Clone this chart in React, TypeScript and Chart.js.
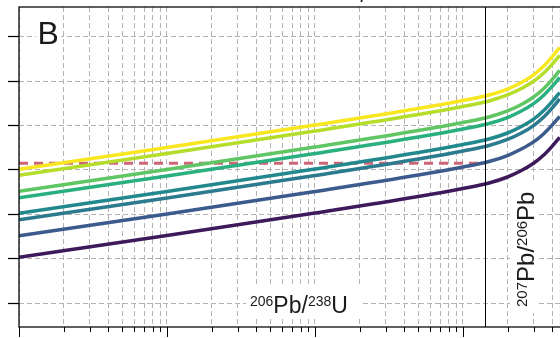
import React, { useEffect, useRef } from "react";
import { Chart, registerables } from "chart.js";
Chart.register(...registerables);

// Age (Ma) sample positions along the curves
const AGES = [1, 10, 100, 500, 1000, 1500, 2000, 2500, 3000, 3500, 4000, 4500];

// Curves (top to bottom in the picture)
const CURVE_YELLOW = [4.011, 4.502, 5.009, 5.381, 5.561, 5.685, 5.82, 5.971, 6.14, 6.333, 6.545, 6.755];
const CURVE_LIME = [3.876, 4.367, 4.874, 5.246, 5.426, 5.55, 5.685, 5.836, 5.994, 6.175, 6.376, 6.575];
const CURVE_GREEN = [3.516, 4.007, 4.514, 4.886, 5.066, 5.19, 5.325, 5.476, 5.639, 5.826, 6.033, 6.237];
const CURVE_EMERALD = [3.369, 3.86, 4.367, 4.739, 4.919, 5.043, 5.178, 5.329, 5.49, 5.674, 5.878, 6.079];
const CURVE_TEAL = [3.02, 3.511, 4.018, 4.39, 4.57, 4.694, 4.829, 4.98, 5.143, 5.331, 5.537, 5.741];
const CURVE_CYAN = [2.874, 3.365, 3.872, 4.244, 4.424, 4.548, 4.683, 4.834, 4.997, 5.184, 5.391, 5.595];
const CURVE_BLUE = [2.513, 3.004, 3.511, 3.883, 4.063, 4.187, 4.322, 4.473, 4.628, 4.807, 5.005, 5.201];
const CURVE_PURPLE = [2.029, 2.52, 3.027, 3.399, 3.579, 3.703, 3.838, 3.989, 4.147, 4.328, 4.529, 4.728];

const CURVES = [CURVE_PURPLE, CURVE_BLUE, CURVE_CYAN, CURVE_TEAL, CURVE_EMERALD, CURVE_GREEN, CURVE_LIME, CURVE_YELLOW];
const CURVE_COLORS = ["#3e1a5b", "#3b5b8c", "#2b7a8d", "#21898d", "#2ab07f", "#60c563", "#b5dd2b", "#f8e621"];

// Dashed reference level
const DASH_AGES = [1, 1400];
const DASH_LEVEL = [4.146, 4.146];

const BOUNDARY_AGE = 1400;
const X_MIN = 1;
const X_MAX = 4567;
const Y_MIN = 0.4595;
const Y_MAX = 7.667;
const X_TICKS = [1, 2, 3, 4, 5, 6, 7, 8, 9, 10, 20, 30, 40, 50, 60, 70, 80, 90, 100, 200, 300, 400, 500, 600, 700, 800, 900, 1000, 2000, 3000, 4000];
const X_MAJOR = [1, 10, 100, 1000];
const Y_TICKS = [1, 2, 3, 4, 5, 6, 7];

const GRID = "#b3b3b3";
const FONT = "'Liberation Sans', Arial, sans-serif";
const OFF = 20; // canvas is shifted up by this many px

function drawParts(ctx: CanvasRenderingContext2D, parts: { t: string; sup: boolean }[], x: number, y: number, main: number, sup: number, supRaise: number) {
  let cx = x;
  for (const p of parts) {
    ctx.font = `${p.sup ? sup : main}px ${FONT}`;
    ctx.fillText(p.t, cx, p.sup ? y - supRaise : y);
    cx += ctx.measureText(p.t).width;
  }
  return cx - x;
}

const overlay = {
  id: "overlay",
  afterDatasetsDraw(chart: any) {
    const { ctx, chartArea: a, scales } = chart;
    const x = scales.x;
    ctx.save();
    // boundary line
    const bx = Math.round(x.getPixelForValue(BOUNDARY_AGE)) + 0.5;
    ctx.strokeStyle = "#000";
    ctx.lineWidth = 1;
    ctx.beginPath();
    ctx.moveTo(bx, a.top);
    ctx.lineTo(bx, a.bottom);
    ctx.stroke();

    // spines
    ctx.lineWidth = 1.25;
    ctx.strokeRect(a.left, a.top, a.right - a.left, a.bottom - a.top);

    // x tick marks
    ctx.lineWidth = 1;
    for (const v of X_TICKS) {
      const px = Math.round(x.getPixelForValue(v)) + 0.5;
      const len = X_MAJOR.includes(v) ? 10 : 5;
      ctx.beginPath();
      ctx.moveTo(px, a.bottom);
      ctx.lineTo(px, a.bottom + len);
      ctx.stroke();
    }

    // text boxes
    ctx.fillStyle = "#fff";
    ctx.fillRect(36, 19 + OFF, 25, 28);
    ctx.fillRect(246, 287 + OFF, 116, 31);
    ctx.fillRect(510, 183 + OFF, 29, 130);

    ctx.fillStyle = "#1a1a1a";
    ctx.textBaseline = "alphabetic";
    ctx.font = `32px ${FONT}`;
    ctx.fillText("B", 37.5, 44 + OFF);

    drawParts(ctx, [
      { t: "206", sup: true },
      { t: "Pb/", sup: false },
      { t: "238", sup: true },
      { t: "U", sup: false },
    ], 250, 313 + OFF, 23, 14, 7);

    ctx.save();
    ctx.translate(534, 307 + OFF);
    ctx.rotate(-Math.PI / 2);
    drawParts(ctx, [
      { t: "207", sup: true },
      { t: "Pb/", sup: false },
      { t: "206", sup: true },
      { t: "Pb", sup: false },
    ], 0, 0, 24, 15, 7);
    ctx.restore();

    // clipped title fragment above the frame
    ctx.font = `italic 20px ${FONT}`;
    ctx.fillText("p", 361, 18);
    ctx.restore();
  },
};

export default function App() {
  const ref = useRef<HTMLCanvasElement>(null);
  useEffect(() => {
    if (!ref.current) return;
    const datasets: any[] = CURVES.map((c, i) => ({
      data: AGES.map((a, j) => ({ x: a, y: c[j] })),
      borderColor: CURVE_COLORS[i],
      borderWidth: 3.5,
      pointRadius: 0,
      cubicInterpolationMode: "monotone",
      fill: false,
    }));
    datasets.push({
      data: DASH_AGES.map((a, j) => ({ x: a, y: DASH_LEVEL[j] })),
      borderColor: "#cc6677",
      borderWidth: 3,
      borderDash: [9, 6],
      pointRadius: 0,
      fill: false,
    });
    const chart = new Chart(ref.current, {
      type: "line",
      data: { datasets },
      options: {
        animation: false,
        responsive: false,
        devicePixelRatio: 1,
        layout: { padding: { top: 7 + OFF, right: 9.4, bottom: 0, left: 0 } },
        plugins: { legend: { display: false }, tooltip: { enabled: false } },
        scales: {
          x: {
            type: "logarithmic",
            min: X_MIN,
            max: X_MAX,
            afterBuildTicks: (s: any) => { s.ticks = X_TICKS.map((v) => ({ value: v })); },
            afterFit: (s: any) => { s.height = 13; },
            ticks: { display: false },
            grid: { color: GRID, lineWidth: 1, drawTicks: false },
            border: { display: false, dash: [5, 3] },
          },
          y: {
            type: "linear",
            min: Y_MIN,
            max: Y_MAX,
            afterBuildTicks: (s: any) => { s.ticks = Y_TICKS.map((v) => ({ value: v })); },
            afterFit: (s: any) => { s.width = 19; },
            ticks: { display: false },
            grid: { color: GRID, lineWidth: 1, tickColor: "#000", tickWidth: 1.25, tickLength: 11 },
            border: { display: false, dash: [5, 3] },
          },
        },
      } as any,
      plugins: [overlay],
    });
    return () => chart.destroy();
  }, []);
  return (
    <div style={{ position: "fixed", left: 0, top: 0, width: 560, height: 338, overflow: "hidden", background: "#fff" }}>
      <canvas ref={ref} width={570} height={360} style={{ position: "absolute", left: 0, top: -OFF }} />
    </div>
  );
}
